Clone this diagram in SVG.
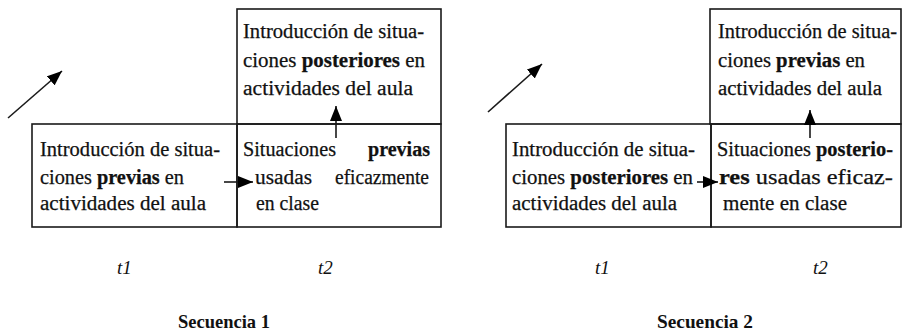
<svg xmlns="http://www.w3.org/2000/svg" width="905" height="331" viewBox="0 0 905 331">
<defs>
<style>
.box{fill:none;stroke:#1a1a1a;stroke-width:1.6}
.t{font-family:"Liberation Serif","Times New Roman",serif;font-size:20px;fill:#111;stroke:#111;stroke-width:0.25}
.b{font-weight:bold}
.lbl{font-family:"Liberation Serif",serif;font-style:italic;font-size:19px;fill:#111}
.seq{font-family:"Liberation Serif",serif;font-weight:bold;font-size:19px;fill:#111}
.con{stroke:#1a1a1a;stroke-width:1.6;fill:none}
</style>
<marker id="ah" viewBox="0 0 15 12" refX="15" refY="6" markerWidth="15" markerHeight="12" markerUnits="userSpaceOnUse" orient="auto">
<path d="M0,0 L15,6 L0,12 Z" fill="#000"/>
</marker>
</defs>
<rect width="905" height="331" fill="#fff"/>

<g id="seq1-top">
<rect class="box" x="237" y="9" width="204" height="115"/>
<text class="t" x="243" y="38" textLength="181" lengthAdjust="spacingAndGlyphs">Introducción de situa-</text>
<text class="t" x="243" y="67" textLength="182" lengthAdjust="spacingAndGlyphs">ciones <tspan class="b">posteriores</tspan> en</text>
<text class="t" x="243" y="95" textLength="170" lengthAdjust="spacingAndGlyphs">actividades del aula</text>
</g>
<g id="seq1-t1">
<rect class="box" x="32" y="124" width="205" height="103"/>
<text class="t" x="40" y="156" textLength="180" lengthAdjust="spacingAndGlyphs">Introducción de situa-</text>
<text class="t" x="40" y="184" textLength="144" lengthAdjust="spacingAndGlyphs">ciones <tspan class="b">previas</tspan> en</text>
<text class="t" x="40" y="210" textLength="166" lengthAdjust="spacingAndGlyphs">actividades del aula</text>
</g>
<g id="seq1-t2">
<rect class="box" x="237" y="124" width="204" height="103"/>
<text class="t" x="243" y="156" textLength="93" lengthAdjust="spacingAndGlyphs">Situaciones</text>
<text class="t b" x="368" y="156" textLength="62" lengthAdjust="spacingAndGlyphs">previas</text>
<text class="t" x="255" y="184" textLength="57" lengthAdjust="spacingAndGlyphs">usadas</text>
<text class="t" x="335" y="184" textLength="94" lengthAdjust="spacingAndGlyphs">eficazmente</text>
<text class="t" x="256" y="210" textLength="63" lengthAdjust="spacingAndGlyphs">en clase</text>
</g>

<g id="seq2-top">
<rect class="box" x="710" y="9" width="191" height="115"/>
<text class="t" x="718" y="38" textLength="179" lengthAdjust="spacingAndGlyphs">Introducción de situa-</text>
<text class="t" x="718" y="67" textLength="147" lengthAdjust="spacingAndGlyphs">ciones <tspan class="b">previas</tspan> en</text>
<text class="t" x="718" y="95" textLength="164" lengthAdjust="spacingAndGlyphs">actividades del aula</text>
</g>
<g id="seq2-t1">
<rect class="box" x="506" y="124" width="205" height="103"/>
<text class="t" x="512" y="156" textLength="183" lengthAdjust="spacingAndGlyphs">Introducción de situa-</text>
<text class="t" x="512" y="184" textLength="181" lengthAdjust="spacingAndGlyphs">ciones <tspan class="b">posteriores</tspan> en</text>
<text class="t" x="512" y="210" textLength="165" lengthAdjust="spacingAndGlyphs">actividades del aula</text>
</g>
<g id="seq2-t2">
<rect class="box" x="711" y="124" width="190" height="103"/>
<text class="t" x="717" y="156" textLength="176" lengthAdjust="spacingAndGlyphs">Situaciones <tspan class="b">posterio-</tspan></text>
<text class="t" x="719" y="184" textLength="174" lengthAdjust="spacingAndGlyphs"><tspan class="b">res</tspan> usadas eficaz-</text>
<text class="t" x="723" y="210" textLength="124" lengthAdjust="spacingAndGlyphs">mente en clase</text>
</g>

<g id="connectors">
<line class="con" x1="8" y1="118" x2="62" y2="71" marker-end="url(#ah)"/>
<line class="con" x1="224" y1="182" x2="253" y2="182" marker-end="url(#ah)"/>
<line class="con" x1="336" y1="138" x2="336" y2="106" marker-end="url(#ah)"/>
<line class="con" x1="488" y1="112" x2="542" y2="64" marker-end="url(#ah)"/>
<line class="con" x1="697" y1="182" x2="718" y2="182" marker-end="url(#ah)"/>
<line class="con" x1="810" y1="138" x2="810" y2="110" marker-end="url(#ah)"/>
</g>

<g id="labels">
<text class="lbl" x="117" y="274">t1</text>
<text class="lbl" x="318" y="274">t2</text>
<text class="lbl" x="595" y="274">t1</text>
<text class="lbl" x="813" y="274">t2</text>
<text class="seq" x="178" y="328" textLength="92" lengthAdjust="spacingAndGlyphs">Secuencia 1</text>
<text class="seq" x="657" y="328" textLength="96" lengthAdjust="spacingAndGlyphs">Secuencia 2</text>
</g>
</svg>
